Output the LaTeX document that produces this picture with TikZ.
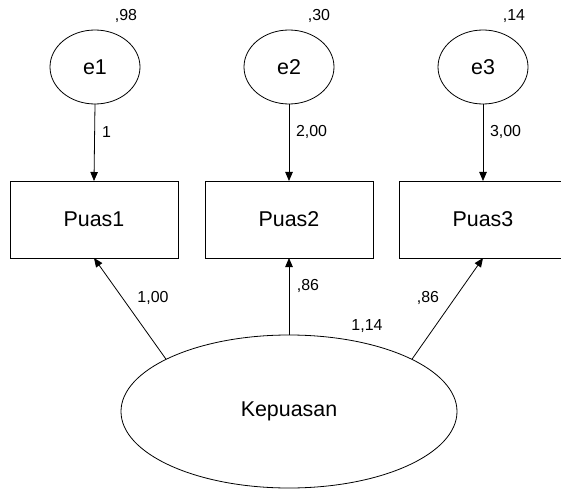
\documentclass[tikz,border=0pt]{standalone}
\usepackage{fontspec}
\setmainfont{Liberation Sans}
\usetikzlibrary{arrows.meta,shapes.geometric}
\begin{document}
\begin{tikzpicture}[x=1bp,y=-1bp,
  every node/.style={inner sep=0pt, outer sep=0pt},
  bigtext/.style={font=\fontsize{21.5}{25}\selectfont},
  smalltext/.style={font=\fontsize{16}{19}\selectfont},
  errvar/.style={draw, ellipse, line width=0.8bp, minimum width=90bp, minimum height=74bp, bigtext},
  obsvar/.style={draw, rectangle, line width=0.8bp, minimum width=168bp, minimum height=77bp, bigtext},
  latvar/.style={draw, ellipse, line width=0.8bp, minimum width=336bp, minimum height=153bp, bigtext},
  path/.style={draw, line width=0.8bp, -{Triangle[length=9bp,width=7.5bp]}},
  num/.style={smalltext}
]
\useasboundingbox (0,0) rectangle (561,490);
\clip (0,0) rectangle (561,490);

% error terms
\node[errvar] (e1) at (95,67) {e1};
\node[errvar] (e2) at (289,67) {e2};
\node[errvar] (e3) at (483,67) {e3};

% observed indicators
\node[obsvar] (p1) at (94,219.5) {Puas1};
\node[obsvar] (p2) at (289,219.5) {Puas2};
\node[obsvar] (p3) at (483,219.5) {Puas3};

% latent factor
\node[latvar] (k) at (289,411.5) {Kepuasan};

% error paths
\draw[path] (e1.south) -- (p1.north);
\draw[path] (e2.south) -- (p2.north);
\draw[path] (e3.south) -- (p3.north);

% loadings
\draw[path] (k.157) -- (p1.south);
\draw[path] (k.north) -- (p2.south);
\draw[path] (k.23) -- (p3.south);

% variances
\node[num] (v1) at (126,16) {,98};
\node[num] (v2) at (319,16) {,30};
\node[num] (v3) at (514,16) {,14};
\node[num] (vk) at (367,326) {1,14};

% path coefficients
\node[num, anchor=west] (w1) at (102,132) {1};
\node[num, anchor=west] (w2) at (296,132) {2,00};
\node[num, anchor=west] (w3) at (490,132) {3,00};
\node[num] (l1) at (153,298) {1,00};
\node[num] (l2) at (308,286) {,86};
\node[num] (l3) at (428,298) {,86};
\end{tikzpicture}
\end{document}
